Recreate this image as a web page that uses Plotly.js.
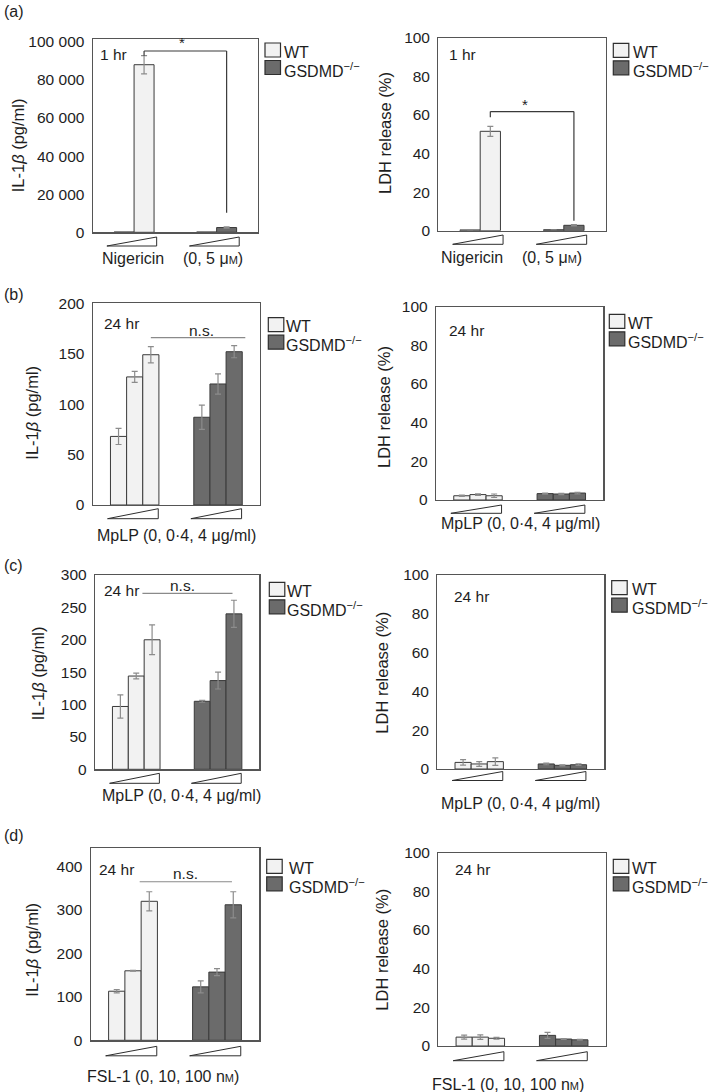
<!DOCTYPE html>
<html><head><meta charset="utf-8">
<script src="https://cdn.plot.ly/plotly-3.0.1.min.js"></script>
<style>body{margin:0;background:#fff}</style>
</head><body><div id="chart" style="width:709px;height:1092px"></div>
<script>
// ---------------- data ----------------
const seriesNames = ['WT', 'GSDMD<sup>−/−</sup>'];
const dosesNigericin = ['0', '5 μM'];
const dosesMpLP = ['0', '0·4', '4 μg/ml'];
const dosesFSL1 = ['0', '10', '100 nM'];

const aIL_WT = [150, 88000];      const aIL_WT_err = [0, 4800];
const aIL_KO = [150, 2500];       const aIL_KO_err = [0, 300];
const aLDH_WT = [0.4, 51.5];      const aLDH_WT_err = [0, 2.6];
const aLDH_KO = [0.5, 2.8];       const aLDH_KO_err = [0, 0.3];

const bIL_WT = [68, 127, 149];    const bIL_WT_err = [8, 5.5, 8];
const bIL_KO = [87, 120, 152];    const bIL_KO_err = [12, 10, 6];
const bLDH_WT = [2.2, 2.8, 2.2];  const bLDH_WT_err = [0.3, 0.4, 0.9];
const bLDH_KO = [3.3, 3.1, 3.6];  const bLDH_KO_err = [0.3, 0.3, 0.4];

const cIL_WT = [97, 144, 200];    const cIL_WT_err = [18, 4.5, 23];
const cIL_KO = [105, 137, 240];   const cIL_KO_err = [1.5, 13, 21];
const cLDH_WT = [3.4, 2.6, 3.8];  const cLDH_WT_err = [1.4, 1.2, 1.9];
const cLDH_KO = [2.6, 1.9, 2.2];  const cLDH_KO_err = [0.4, 0.3, 0.4];

const dIL_WT = [113, 160, 320];   const dIL_WT_err = [4, 1, 22];
const dIL_KO = [123, 157, 312];   const dIL_KO_err = [14, 8, 30];
const dLDH_WT = [4.6, 4.6, 4.0];  const dLDH_WT_err = [1.0, 1.2, 0.5];
const dLDH_KO = [5.5, 3.6, 3.2];  const dLDH_KO_err = [1.6, 0.2, 0.2];

const ticksIL_a = [0, 20000, 40000, 60000, 80000, 100000];
const tickTextIL_a = ['0', '20 000', '40 000', '60 000', '80 000', '100 000'];
const ticksIL_b = [0, 50, 100, 150, 200];
const ticksIL_c = [0, 50, 100, 150, 200, 250, 300];
const ticksIL_d = [0, 100, 200, 300, 400];
const ticksLDH = [0, 20, 40, 60, 80, 100];

const titleIL = 'IL-1<i>β</i> (pg/ml)';
const titleLDH = 'LDH release (%)';
const sm = s => "<span style='font-size:11px'>" + s + "</span>";
const xLabelA = ['Nigericin', '(0, 5 μ' + sm('M') + ')'];
const xLabelMpLP = 'MpLP (0, 0·4, 4 μg/ml)';
const xLabelFSL = 'FSL-1 (0, 10, 100 n' + sm('M') + ')';

// ---------------- layout helpers ----------------
const W = 709, H = 1092;
const X = p => p / W;
const Y = p => 1 - p / H;
const FONT = 'Liberation Sans, Arial, Helvetica, sans-serif';
const WT_FILL = '#f2f2f2', KO_FILL = '#6b6b6b', EDGE = '#3a3a3a', FRAME = '#555555', TXT = '#1e1e1e';

// frame = [left, right, top, bottom] in px
const panels = [
  {doses: dosesNigericin, wt: aIL_WT, wte: aIL_WT_err, ko: aIL_KO, koe: aIL_KO_err,
   frame: [92.7, 258, 39, 232.3], yr: [0, 101500], tv: ticksIL_a, tt: tickTextIL_a,
   title: titleIL, tpos: [18.3, 145], hr: '1 hr', hrpos: [97.7, 54],
   leg: [265, 43, 283], wedge: [4.7, 13.7],
   xl: [[xLabelA[0], 133, 258], [xLabelA[1], 213, 258]],
   sig: {type: 'star', y: 95200, lt: 92700, rt: 10200, sx: 181.7, sy: 42.3}},
  {doses: dosesNigericin, wt: aLDH_WT, wte: aLDH_WT_err, ko: aLDH_KO, koe: aLDH_KO_err,
   frame: [438.3, 605.7, 37.7, 230.7], yr: [0, 100], tv: ticksLDH,
   title: titleLDH, tpos: [385, 133], hr: '1 hr', hrpos: [446.7, 54],
   leg: [613.3, 43.3, 631.7], wedge: [4.3, 13.6],
   xl: [[xLabelA[0], 471.7, 257.7], [xLabelA[1], 552, 257.7]],
   sig: {type: 'star', y: 61.7, lt: 58.8, rt: 5.2, sx: 525, sy: 105}},
  {doses: dosesMpLP, wt: bIL_WT, wte: bIL_WT_err, ko: bIL_KO, koe: bIL_KO_err,
   frame: [92.7, 260, 303.3, 505], yr: [0, 200], tv: ticksIL_b,
   title: titleIL, tpos: [31.7, 413], hr: '24 hr', hrpos: [101.7, 323.3],
   leg: [268.3, 317.7, 285], wedge: [3.7, 13.7],
   xl: [[xLabelMpLP, 176.7, 535]],
   sig: {type: 'ns', y: 165.9, x0: 2, x1: 7.85, sx: 201.7, sy: 330}},
  {doses: dosesMpLP, wt: bLDH_WT, wte: bLDH_WT_err, ko: bLDH_KO, koe: bLDH_KO_err,
   frame: [436, 603.3, 306.7, 500], yr: [0, 100], tv: ticksLDH,
   title: titleLDH, tpos: [383.3, 406.7], hr: '24 hr', hrpos: [446.7, 330],
   leg: [609.3, 314.3, 627], wedge: [5, 13.3],
   xl: [[xLabelMpLP, 520, 523.3]], sig: null},
  {doses: dosesMpLP, wt: cIL_WT, wte: cIL_WT_err, ko: cIL_KO, koe: cIL_KO_err,
   frame: [95, 259.3, 575, 769.3], yr: [0, 300], tv: ticksIL_c,
   title: titleIL, tpos: [38.3, 673], hr: '24 hr', hrpos: [101.7, 590],
   leg: [269.3, 582.3, 286], wedge: [4, 14],
   xl: [[xLabelMpLP, 181.7, 795]],
   sig: {type: 'ns', y: 271.7, x0: 1.39, x1: 7.07, sx: 182.7, sy: 585}},
  {doses: dosesMpLP, wt: cLDH_WT, wte: cLDH_WT_err, ko: cLDH_KO, koe: cLDH_KO_err,
   frame: [437.3, 604.3, 575, 769], yr: [0, 100], tv: ticksLDH,
   title: titleLDH, tpos: [381.7, 673], hr: '24 hr', hrpos: [451.7, 596.7],
   leg: [611.7, 580.7, 631], wedge: [2.5, 11.5],
   xl: [[xLabelMpLP, 520, 803.3]], sig: null},
  {doses: dosesFSL1, wt: dIL_WT, wte: dIL_WT_err, ko: dIL_KO, koe: dIL_KO_err,
   frame: [90.7, 259.3, 848.3, 1040.3], yr: [0, 442], tv: ticksIL_d,
   title: titleIL, tpos: [31.7, 950], hr: '24 hr', hrpos: [96.7, 869.3],
   leg: [266.7, 859.3, 288], wedge: [6, 15.5],
   xl: [[xLabelFSL, 163.3, 1076.7]],
   sig: {type: 'ns', y: 365, x0: 1.41, x1: 7.08, sx: 185, sy: 873.3}},
  {doses: dosesFSL1, wt: dLDH_WT, wte: dLDH_WT_err, ko: dLDH_KO, koe: dLDH_KO_err,
   frame: [438.3, 605.7, 852.7, 1046], yr: [0, 100], tv: ticksLDH,
   title: titleLDH, tpos: [381.7, 950], hr: '24 hr', hrpos: [452.7, 869],
   leg: [613.3, 859.3, 631], wedge: [5.7, 14.7],
   xl: [[xLabelFSL, 508.3, 1084]], sig: null}
];

const panelLabels = [['(a)', 2, 12], ['(b)', 2, 295], ['(c)', 2, 565], ['(d)', 2, 835]];

const data = [];
const layout = {
  width: W, height: H, margin: {l: 0, r: 0, t: 0, b: 0},
  paper_bgcolor: '#ffffff', plot_bgcolor: '#ffffff',
  showlegend: false, barmode: 'overlay',
  font: {family: FONT, size: 15.5, color: TXT},
  shapes: [], annotations: []
};

panels.forEach((p, k) => {
  const i = k + 1;
  const xr = i === 1 ? 'x' : 'x' + i, yr = i === 1 ? 'y' : 'y' + i;
  const xa = i === 1 ? 'xaxis' : 'xaxis' + i, ya = i === 1 ? 'yaxis' : 'yaxis' + i;
  const n = p.doses.length;
  const gap = n === 2 ? 4.13 : 5.16;
  const pad = n === 2 ? 1.57 : 1.6;
  const f = p.frame;

  layout[xa] = {domain: [X(f[0]), X(f[1])], range: [-pad, gap + n - 1 + pad], anchor: yr,
    showline: true, mirror: true, linecolor: FRAME, linewidth: 1.2, showticklabels: false,
    ticks: '', showgrid: false, zeroline: false, fixedrange: true};
  layout[ya] = {domain: [Y(f[3]), Y(f[2])], range: p.yr, anchor: xr,
    showline: true, mirror: true, linecolor: FRAME, linewidth: 1.2,
    tickmode: 'array', tickvals: p.tv, ticktext: p.tt || p.tv.map(String),
    ticks: '', ticklabelstandoff: 4, showgrid: false, zeroline: false, fixedrange: true,
    tickfont: {size: 15.5, color: TXT, family: FONT}};

  const mk = (vals, errs, off, fill, name) => ({
    type: 'bar', xaxis: xr, yaxis: yr, name: name,
    x: p.doses.map((d, j) => j + off), y: vals, width: 1,
    customdata: p.doses, hovertemplate: name + ' %{customdata}: %{y}<extra></extra>',
    marker: {color: fill, line: {color: EDGE, width: 1}},
    error_y: {type: 'data', array: errs, visible: true, color: '#8c8c8c', thickness: 1.2, width: 3}
  });
  data.push(mk(p.wt, p.wte, 0, WT_FILL, seriesNames[0]));
  data.push(mk(p.ko, p.koe, gap, KO_FILL, seriesNames[1]));

  // dose wedges
  const wl = n === 2 ? 0.86 : 0.68, wrr = n === 2 ? 0.63 : 0.46;
  [0, gap].forEach(b => {
    const x0 = b - wl, x1 = b + n - 1 + wrr;
    const yt = Y(f[3] + p.wedge[0]), yb = Y(f[3] + p.wedge[1]);
    layout.shapes.push({type: 'path', xref: xr, yref: 'paper',
      path: `M ${x0},${yb} L ${x1},${yb} L ${x1},${yt} Z`,
      line: {color: '#2e2e2e', width: 1}, fillcolor: 'rgba(0,0,0,0)'});
  });

  // y title
  layout.annotations.push({xref: 'paper', yref: 'paper', x: X(p.tpos[0]), y: Y(p.tpos[1]),
    text: p.title, textangle: -90, showarrow: false, xanchor: 'center', yanchor: 'middle',
    font: {size: 16.5, color: TXT}});
  // time label
  layout.annotations.push({xref: 'paper', yref: 'paper', x: X(p.hrpos[0]), y: Y(p.hrpos[1]),
    text: p.hr, showarrow: false, xanchor: 'left', yanchor: 'middle', font: {size: 15.5, color: TXT}});
  // x labels
  p.xl.forEach(l => layout.annotations.push({xref: 'paper', yref: 'paper', x: X(l[1]), y: Y(l[2]),
    text: l[0], showarrow: false, xanchor: 'center', yanchor: 'middle', font: {size: 16, color: TXT}}));

  // legend
  const L = p.leg;
  [[WT_FILL, seriesNames[0]], [KO_FILL, seriesNames[1]]].forEach((e, j) => {
    const top = L[1] + j * 17.5;
    layout.shapes.push({type: 'rect', xref: 'paper', yref: 'paper',
      x0: X(L[0]), x1: X(L[0] + 15.5), y0: Y(top + 14), y1: Y(top),
      fillcolor: e[0], line: {color: '#2e2e2e', width: 1.2}});
    layout.annotations.push({xref: 'paper', yref: 'paper', x: X(L[2] - 1), y: Y(top + 9),
      text: e[1], showarrow: false, xanchor: 'left', yanchor: 'middle', font: {size: 16, color: TXT}});
  });

  // significance
  const s = p.sig;
  if (s && s.type === 'star') {
    const xa0 = 1, xa1 = gap + 1;
    const ln = (x0, y0, x1, y1) => layout.shapes.push({type: 'line', xref: xr, yref: yr,
      x0, y0, x1, y1, line: {color: '#3a3a3a', width: 1.2}});
    ln(xa0, s.y, xa1, s.y); ln(xa0, s.y, xa0, s.lt); ln(xa1, s.y, xa1, s.rt);
    layout.annotations.push({xref: 'paper', yref: 'paper', x: X(s.sx), y: Y(s.sy), text: '*',
      showarrow: false, xanchor: 'center', yanchor: 'middle', font: {size: 15, color: TXT}});
  } else if (s && s.type === 'ns') {
    layout.shapes.push({type: 'line', xref: xr, yref: yr, x0: s.x0, x1: s.x1, y0: s.y, y1: s.y,
      line: {color: '#8a8a8a', width: 1.2}});
    layout.annotations.push({xref: 'paper', yref: 'paper', x: X(s.sx), y: Y(s.sy), text: 'n.s.',
      showarrow: false, xanchor: 'center', yanchor: 'middle', font: {size: 15.5, color: TXT}});
  }
});

panelLabels.forEach(l => layout.annotations.push({xref: 'paper', yref: 'paper', x: X(l[1]), y: Y(l[2]),
  text: l[0], showarrow: false, xanchor: 'left', yanchor: 'middle', font: {size: 16, color: TXT}}));

Plotly.newPlot('chart', data, layout, {displayModeBar: false, staticPlot: true});
</script>
</body></html>
